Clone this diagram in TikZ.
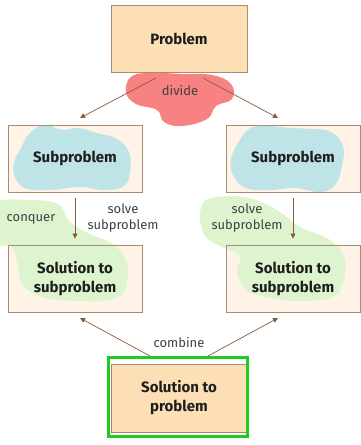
\documentclass[tikz,border=0pt]{standalone}
\usepackage{fontspec}
\setmainfont{Fira Sans}
\usetikzlibrary{arrows.meta}
\pgfdeclarelayer{bg}
\pgfdeclarelayer{blob}
\pgfsetlayers{bg,blob,main}
\definecolor{boxfill}{HTML}{FDDFB6}
\definecolor{creamfill}{HTML}{FEF3E6}
\definecolor{boxline}{HTML}{A88B70}
\definecolor{arrcol}{HTML}{8A5A3E}
\definecolor{redblob}{HTML}{F88181}
\definecolor{blueblob}{HTML}{BEE4E7}
\definecolor{greenblob}{HTML}{DDF4CF}
\definecolor{frame}{HTML}{1FCC1F}
\definecolor{txt}{HTML}{1E1E1E}
\tikzset{
  box/.style={draw=boxline, line width=0.9pt, minimum width=134pt, minimum height=67pt,
    inner sep=0pt, align=center, font=\fontsize{15}{19}\selectfont\bfseries, text=txt},
  lbl/.style={align=center, font=\fontsize{13}{16}\selectfont, text=txt!85},
  arr/.style={draw=arrcol, line width=0.7pt, -{Triangle[width=5pt,length=5pt]}},
}
\begin{document}
\begin{tikzpicture}[x=1pt,y=-1pt]
\useasboundingbox (0,0) rectangle (360,445);

% boxes
\node[box, minimum width=136pt] (prob) at (179,38.5) {Problem};
\node[box] (subL) at (75,158.5) {Subproblem};
\node[box] (subR) at (293,158.5) {Subproblem};
\node[box] (solL) at (75,278.5) {Solution to\\subproblem};
\node[box] (solR) at (293,278.5) {Solution to\\subproblem};
\node[box, minimum width=136pt, minimum height=68pt] (sol) at (179,398) {Solution to\\problem};
\node[draw=frame, line width=3pt, minimum width=139pt, minimum height=79pt, inner sep=0pt] (fr) at (178,397) {};

\begin{pgfonlayer}{bg}
  \fill[white] (0,0) rectangle (360,445);
  \fill[boxfill] (prob.north west) rectangle (prob.south east);
  \fill[boxfill] (sol.north west) rectangle (sol.south east);
  \foreach \n in {subL,subR,solL,solR}
    \fill[creamfill] (\n.north west) rectangle (\n.south east);
\end{pgfonlayer}

\begin{pgfonlayer}{blob}
  % divide blob
  \fill[redblob] plot[smooth cycle, tension=0.7] coordinates {
    (132,76) (155,73) (182,74) (212,75) (231,84) (232,99) (216,106) (207,119)
    (182,126) (164,122) (157,110) (136,104) (126,92)};
  % blue blobs
  \fill[blueblob] plot[smooth cycle, tension=0.7] coordinates {
    (20,150) (30,133) (45,125) (62,130) (78,128) (97,133) (117,139) (129,152)
    (130,171) (124,186) (104,190) (80,187) (50,190) (25,188) (14,175) (15,160)};
  \fill[blueblob] plot[smooth cycle, tension=0.7] coordinates {
    (237,145) (249,129) (266,126) (290,128) (312,129) (331,132) (343,146)
    (342,166) (335,185) (320,192) (295,188) (270,190) (246,188) (233,175) (231,160)};
  % green blobs
  \fill[greenblob] plot[smooth cycle, tension=0.6] coordinates {
    (-5,204) (28,200) (58,204) (70,222) (90,234) (114,245) (127,264) (125,290)
    (110,300) (80,301) (46,298) (23,286) (18,266) (12,247) (-5,242)};
  \fill[greenblob] plot[smooth cycle, tension=0.6] coordinates {
    (206,200) (232,196) (256,200) (280,212) (300,227) (330,240) (345,260)
    (342,286) (330,298) (300,301) (270,298) (246,290) (237,272) (240,256)
    (220,246) (205,236) (200,216)};
\end{pgfonlayer}

% connectors
\coordinate (d1) at (156,78);
\coordinate (d2) at (203,78);
\coordinate (e1) at (80,118);
\coordinate (e2) at (278,118);
\draw[arr] (d1) -- (e1);
\draw[arr] (d2) -- (e2);
\draw[arr, shorten <=6pt, shorten >=6pt] (subL.south) -- (solL.north);
\draw[arr, shorten <=6pt, shorten >=6pt] (subR.south) -- (solR.north);
\coordinate (c1) at (150,356);
\coordinate (c2) at (208,356);
\coordinate (f1) at (80,318);
\coordinate (f2) at (278,318);
\draw[arr] (c1) -- (f1);
\draw[arr] (c2) -- (f2);

% labels
\node[lbl] (ldiv) at (180,91) {divide};
\node[lbl] (lcon) at (31,219) {conquer};
\node[lbl] (lsL) at (123,218) {solve\\subproblem};
\node[lbl] (lsR) at (247,218) {solve\\subproblem};
\node[lbl] (lcomb) at (179,343) {combine};
\end{tikzpicture}
\end{document}
